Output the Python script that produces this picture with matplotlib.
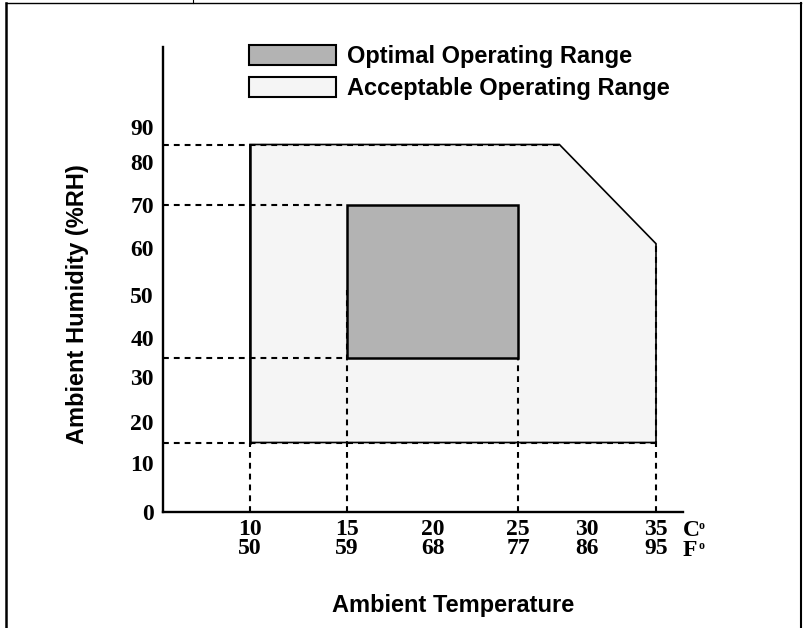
import numpy as np
import matplotlib
matplotlib.use("Agg")
import matplotlib.pyplot as plt
from matplotlib.patches import Patch
from matplotlib.lines import Line2D

# --- chart data -------------------------------------------------------------
C_TICKS = [10, 15, 20, 25, 30, 35]
F_TICKS = [50, 59, 68, 77, 86, 95]
RH_TICKS = [0, 10, 20, 30, 40, 50, 60, 70, 80, 90]

# acceptable envelope (temperature degC, humidity %RH), corner clipped at top right
ACCEPT_T = [10, 10, 28, 35, 35]
ACCEPT_RH = [15, 85, 85, 61, 15]

# optimal box
OPTIMAL_T = [15, 25]
OPTIMAL_RH = [35, 70]

# dashed guides: (humidity, temperature where it stops) and (temperature, humidity where it stops)
H_GUIDE_RH = [85, 70, 35, 15]
H_GUIDE_T = [28, 15, 15, 35]
V_GUIDE_T = [10, 15, 25, 35]
V_GUIDE_RH = [15, 51, 35, 61]

# --- layout: where the tick values sit on the drawing (pixels) ---------------
W, H = 806, 628
X_TICK_PX = [250, 347, 433, 518, 587, 656]
Y_TICK_PX = [512, 463, 422, 377, 338, 295, 248, 205, 162, 127]
AX_L, AX_R, AX_B, AX_T = 163, 683, 512, 47

OPT_COLOR = "#b3b3b3"
ACC_COLOR = "#f5f5f5"
SERIF = dict(family="Liberation Serif", weight="bold")
SANS = dict(family="Liberation Sans", weight="bold")


def piecewise(vals, px):
    """Piecewise-linear scale functions through the given knots."""
    vals = np.asarray(vals, float)
    px = np.asarray(px, float)
    s0 = (px[1] - px[0]) / (vals[1] - vals[0])
    s1 = (px[-1] - px[-2]) / (vals[-1] - vals[-2])

    def fwd(v):
        v = np.asarray(v, float)
        out = np.interp(v, vals, px)
        out = np.where(v < vals[0], px[0] + (v - vals[0]) * s0, out)
        return np.where(v > vals[-1], px[-1] + (v - vals[-1]) * s1, out)

    def inv(p):
        p = np.asarray(p, float)
        out = np.interp(p, px, vals)
        out = np.where(p < px[0], vals[0] + (p - px[0]) / s0, out)
        return np.where(p > px[-1], vals[-1] + (p - px[-1]) / s1, out)

    return fwd, inv


fx, ix = piecewise(C_TICKS, X_TICK_PX)
fy, iy = piecewise(RH_TICKS, [H - p for p in Y_TICK_PX])

fig = plt.figure(figsize=(W / 100, H / 100), dpi=100)
ax = fig.add_axes([AX_L / W, 1 - AX_B / H, (AX_R - AX_L) / W, (AX_B - AX_T) / H])
ax.set_xscale("function", functions=(fx, ix))
ax.set_yscale("function", functions=(fy, iy))
x0, x1 = float(ix(AX_L)), float(ix(AX_R))
y0, y1 = float(iy(H - AX_B)), float(iy(H - AX_T))
ax.set_xlim(x0, x1)
ax.set_ylim(y0, y1)

# regions
ax.fill(ACCEPT_T, ACCEPT_RH, facecolor=ACC_COLOR, edgecolor="black", lw=1.2, zorder=1)
ax.fill([OPTIMAL_T[0], OPTIMAL_T[1], OPTIMAL_T[1], OPTIMAL_T[0]],
        [OPTIMAL_RH[0], OPTIMAL_RH[0], OPTIMAL_RH[1], OPTIMAL_RH[1]],
        facecolor=OPT_COLOR, edgecolor="black", lw=1.8, zorder=2)
ax.plot([ACCEPT_T[0], ACCEPT_T[1]], [ACCEPT_RH[0], ACCEPT_RH[1]], color="black", lw=1.8, zorder=3)

# dashed guides
dash = dict(color="black", lw=1.5, dashes=(2.8, 2.4), zorder=4)
for rh, t in zip(H_GUIDE_RH, H_GUIDE_T):
    ax.plot([x0, t], [rh, rh], **dash)
for t, rh in zip(V_GUIDE_T, V_GUIDE_RH):
    ax.plot([t, t], [y0, rh], **dash)

# axes styling
for side in ("top", "right"):
    ax.spines[side].set_visible(False)
for side in ("left", "bottom"):
    ax.spines[side].set_linewidth(1.7)
ax.patch.set_visible(False)
ax.minorticks_off()
ax.set_yticks(RH_TICKS, [str(v) for v in RH_TICKS], fontsize=17, **SERIF)
ax.set_xticks(C_TICKS, [f"{c}\n{f}" for c, f in zip(C_TICKS, F_TICKS)], fontsize=17, **SERIF)
for lab in ax.get_xticklabels():
    lab.set_linespacing(0.9)
ax.tick_params(axis="y", length=0, pad=6.5)
ax.tick_params(axis="x", length=0, pad=5)

# unit markers after the last tick
for row, unit in enumerate(["C", "F"]):
    ax.annotate(unit, xy=(C_TICKS[-1], 0), xycoords=("data", "axes fraction"),
                xytext=(19, -5.5 - 15 * row), textcoords="offset points",
                ha="left", va="top", fontsize=17, **SERIF)
    ax.annotate("o", xy=(C_TICKS[-1], 0), xycoords=("data", "axes fraction"),
                xytext=(30.5, -5.5 - 15 * row), textcoords="offset points",
                ha="left", va="top", fontsize=8.5, **SERIF)

ax.set_xlabel("Ambient Temperature", fontsize=17, **SANS)
ax.set_ylabel("Ambient Humidity (%RH)", fontsize=17, **SANS)
ax.xaxis.set_label_coords((453 - AX_L) / (AX_R - AX_L), -(594 - AX_B) / (AX_B - AX_T))
ax.yaxis.set_label_coords(-(AX_L - 89) / (AX_R - AX_L), 1 - (304 - AX_T) / (AX_B - AX_T))

# legend
handles = [Patch(facecolor=OPT_COLOR, edgecolor="black", lw=1.5, label="Optimal Operating Range"),
           Patch(facecolor=ACC_COLOR, edgecolor="black", lw=1.5, label="Acceptable Operating Range")]
fig.legend(handles=handles, loc="upper left", bbox_to_anchor=(249 / W, 1 - 45 / H),
           frameon=False, borderpad=0, borderaxespad=0, handlelength=3.69, handleheight=0.93,
           handletextpad=0.45, labelspacing=0.37, prop=dict(size=17, **SANS))

# page frame
frame = dict(color="black", transform=fig.transFigure)
fig.add_artist(Line2D([6 / W, 801 / W], [1 - 3 / H, 1 - 3 / H], lw=1.0, **frame))
fig.add_artist(Line2D([6 / W, 6 / W], [0, 1 - 3 / H], lw=1.8, **frame))
fig.add_artist(Line2D([801 / W, 801 / W], [0, 1 - 3 / H], lw=1.5, **frame))
fig.add_artist(Line2D([193 / W, 193 / W], [1 - 3 / H, 1], lw=0.8, **frame))

fig.savefig("out.png", dpi=100)
